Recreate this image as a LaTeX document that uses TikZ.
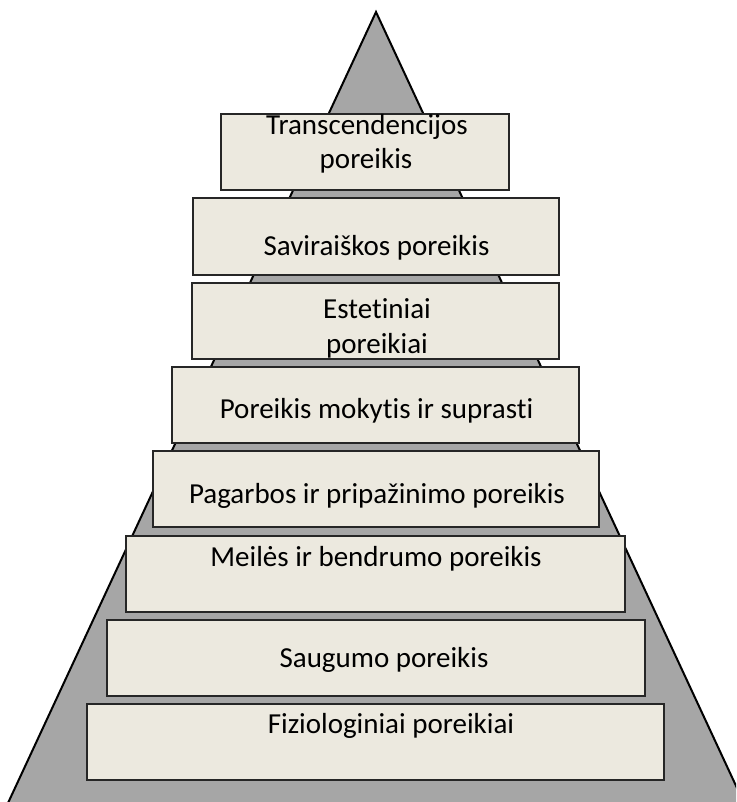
\documentclass[tikz,border=0pt]{standalone}
\usepackage{fontspec}
\setmainfont{Carlito}[Ligatures={NoCommon}]
\definecolor{tierfill}{HTML}{ECE9DF}
\definecolor{pyrgray}{HTML}{A6A6A6}
\begin{document}
\begin{tikzpicture}[x=1pt,y=-1pt,
  tier/.style={draw=black!85, line width=1.3pt, fill=tierfill, rectangle, inner sep=0pt},
  lbl/.style={anchor=base, inner sep=0pt, text=black, font=\fontsize{29}{35}\selectfont}]
\path[use as bounding box] (0,0) rectangle (736,802);
\begin{scope}
  \clip (0,0) rectangle (736,802);
  % the pyramid behind the tiers
  \coordinate (apex) at (376,12);
  \coordinate (baseL) at (8,803);
  \coordinate (baseR) at (744,803);
  \draw[fill=pyrgray, line width=2pt, line join=miter] (apex) -- (baseL) -- (baseR) -- cycle;
\end{scope}

% tiers, top to bottom
\node[tier, minimum width=288pt, minimum height=76pt] (t1) at (365,152) {};
\node[tier, minimum width=366pt, minimum height=77pt] (t2) at (376,236.5) {};
\node[tier, minimum width=367pt, minimum height=76pt] (t3) at (375.5,321) {};
\node[tier, minimum width=407pt, minimum height=76pt] (t4) at (375.5,405) {};
\node[tier, minimum width=446pt, minimum height=76pt] (t5) at (376,489) {};
\node[tier, minimum width=499pt, minimum height=76pt] (t6) at (375.5,574) {};
\node[tier, minimum width=538pt, minimum height=76pt] (t7) at (376,658) {};
\node[tier, minimum width=577pt, minimum height=76pt] (t8) at (375.5,742) {};

% tier labels
\node[lbl] (l1a) at (367,135) {Transcendencijos};
\node[lbl] (l1b) at (366,169) {poreikis};
\node[lbl] (l2) at (376.5,255) {Saviraiškos poreikis};
\node[lbl] (l3a) at (377,318) {Estetiniai};
\node[lbl] (l3b) at (377,353) {poreikiai};
\node[lbl] (l4) at (376.5,418) {Poreikis mokytis ir suprasti};
\node[lbl] (l5) at (377,503) {Pagarbos ir pripažinimo poreikis};
\node[lbl] (l6) at (376,566) {Meilės ir bendrumo poreikis};
\node[lbl] (l7) at (384,667) {Saugumo poreikis};
\node[lbl] (l8) at (391,733) {Fiziologiniai poreikiai};
\end{tikzpicture}
\end{document}
